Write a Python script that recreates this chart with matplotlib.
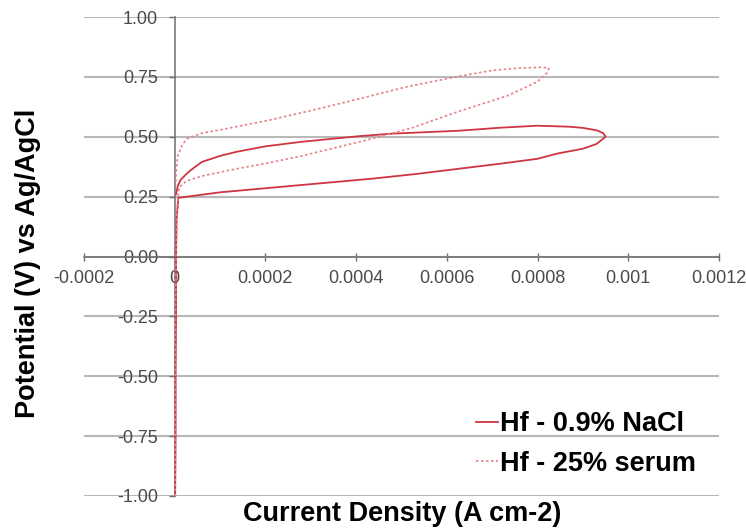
import matplotlib
matplotlib.use("Agg")
import matplotlib.pyplot as plt

# Hf in 0.9% NaCl (A cm-2 vs V)
nacl_current = [0.000001, 0.000002, 0.000002, 0.000003, 0.000003, 0.000004, 0.000008,
                0.0001, 0.0002, 0.0003, 0.00043, 0.00053, 0.000625, 0.00072, 0.0008,
                0.000844, 0.0009, 0.00093, 0.00095, 0.000945, 0.00093, 0.0009, 0.00087,
                0.0008, 0.00072, 0.000625, 0.00054, 0.00048, 0.00041, 0.00035, 0.00028,
                0.0002, 0.000136, 0.0001, 0.00006, 0.000035, 0.000026, 0.000013,
                0.0000066, 0.000003]
nacl_potential = [-1.0, -0.75, -0.5, -0.25, 0.0, 0.15, 0.245,
                  0.268, 0.285, 0.302, 0.324, 0.344, 0.366, 0.388, 0.408,
                  0.43, 0.45, 0.47, 0.50, 0.515, 0.527, 0.537, 0.542,
                  0.546, 0.538, 0.525, 0.518, 0.513, 0.503, 0.492, 0.479,
                  0.46, 0.437, 0.42, 0.395, 0.36, 0.345, 0.32,
                  0.294, 0.26]

# Hf in 25% serum
serum_current = [0.000001, 0.000001, 0.000002, 0.000002, 0.000003, 0.000005, 0.00001,
                 0.000026, 0.00006, 0.000136, 0.00021, 0.00028, 0.00041, 0.00052,
                 0.000625, 0.000735, 0.0008, 0.00082, 0.000825, 0.00081, 0.00076,
                 0.0007, 0.000625, 0.000515, 0.00041, 0.00032, 0.00021, 0.00012,
                 0.00006, 0.00003, 0.0000175, 0.0000066, 0.000003, 0.000002]
serum_potential = [-1.0, -0.75, -0.5, -0.25, 0.0, 0.2, 0.29,
                   0.315, 0.336, 0.366, 0.392, 0.42, 0.48, 0.535,
                   0.605, 0.672, 0.73, 0.765, 0.786, 0.79, 0.787,
                   0.777, 0.752, 0.71, 0.66, 0.618, 0.57, 0.536,
                   0.515, 0.495, 0.47, 0.42, 0.35, 0.3]

series_labels = ["Hf - 0.9% NaCl", "Hf - 25% serum"]
x_ticks = [-0.0002, 0, 0.0002, 0.0004, 0.0006, 0.0008, 0.001, 0.0012]
x_tick_labels = ["-0.0002", "0", "0.0002", "0.0004", "0.0006", "0.0008", "0.001", "0.0012"]
y_ticks = [-1.0, -0.75, -0.5, -0.25, 0.0, 0.25, 0.5, 0.75, 1.0]
y_tick_labels = ["-1.00", "-0.75", "-0.50", "-0.25", "0.00", "0.25", "0.50", "0.75", "1.00"]

plt.rcParams["font.family"] = ["Liberation Sans", "DejaVu Sans"]

W, H = 746, 528
fig = plt.figure(figsize=(W / 100, H / 100), dpi=100)
ax = fig.add_axes([84 / W, 1 - 496 / H, 635 / W, 479 / H])

ax.plot(nacl_current, nacl_potential, color="#cf3540", lw=1.3,
        label=series_labels[0], zorder=3)
ax.plot(serum_current, serum_potential, color="#e8808a", lw=1.2,
        linestyle=(0, (1.5, 1.5)), label=series_labels[1], zorder=3)

ax.set_xlim(-0.0002, 0.0012)
ax.set_ylim(-1.0, 1.0)
ax.set_xticks(x_ticks)
ax.set_xticklabels(x_tick_labels)
ax.set_yticks(y_ticks)
ax.set_yticklabels(y_tick_labels)

for side in ["top", "right"]:
    ax.spines[side].set_visible(False)
ax.spines["left"].set_position(("data", 0))
ax.spines["bottom"].set_position(("data", 0))
ax.spines["left"].set_color("#6e6e6e")
ax.spines["bottom"].set_color("#6e6e6e")
ax.spines["left"].set_linewidth(1.1)
ax.spines["bottom"].set_linewidth(1.1)

ax.yaxis.grid(True, color="#b8b8b8", lw=1.5)
ax.set_axisbelow(True)

ax.tick_params(axis="x", direction="inout", length=6, width=1, color="#6e6e6e",
               labelsize=13, labelcolor="#4a4a4a", pad=7)
ax.tick_params(axis="y", direction="out", length=4, width=1, color="#6e6e6e",
               labelsize=13, labelcolor="#4a4a4a", pad=8)

fig.text(28 / W, 1 - 263 / H, "Potential (V) vs Ag/AgCl", rotation=90,
         ha="center", va="center", fontsize=19.5, fontweight="bold")
fig.text(402 / W, 1 - 514 / H, "Current Density (A cm-2)",
         ha="center", va="center", fontsize=19.5, fontweight="bold")

ax.legend(loc="center left", bbox_to_anchor=(476 / W, 1 - 444 / H),
          bbox_transform=fig.transFigure, frameon=False, borderpad=0,
          borderaxespad=0, handlelength=0.8, handletextpad=0.1,
          labelspacing=0.5, prop={"size": 19.5, "weight": "bold"})

fig.savefig("out.png", dpi=100)
